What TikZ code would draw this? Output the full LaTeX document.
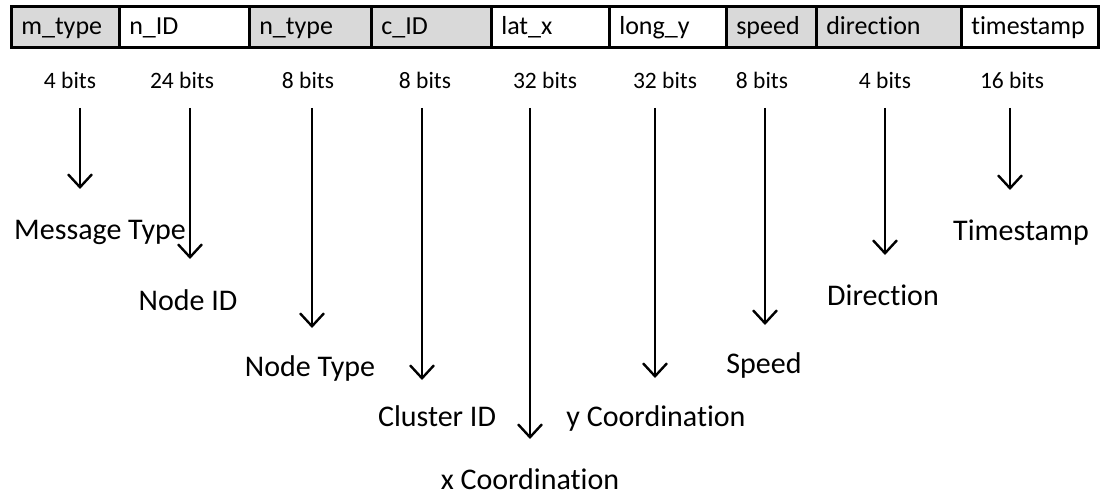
\documentclass[tikz,border=0pt]{standalone}
\usepackage{fontspec}
\setmainfont[Ligatures={NoCommon}]{Carlito}
\usetikzlibrary{arrows.meta}
\definecolor{cellgray}{HTML}{D9D9D9}
\tikzset{
  cell/.style={draw=black, line width=2.6pt, minimum height=41pt, inner xsep=10pt,
    inner ysep=0pt, text height=20pt, text depth=4pt, align=left, anchor=west,
    font=\fontsize{26}{30}\selectfont},
  bitlbl/.style={inner sep=0pt, font=\fontsize{23.5}{27}\selectfont},
  fieldlbl/.style={inner sep=0pt, font=\fontsize{30}{34}\selectfont},
  arr/.style={line width=2.4pt, -{Straight Barb[length=13pt,width=24pt]}}
}
\begin{document}
\begin{tikzpicture}[x=1pt,y=-1pt]
\useasboundingbox (0,0) rectangle (1105,497);

% header fields
\node[cell, fill=cellgray, text width=88pt]  (f1) at (10,27)  {m\_type};
\node[cell, fill=white,    text width=110pt] (f2) at (118,27) {n\_ID};
\node[cell, fill=cellgray, text width=102pt] (f3) at (248,27) {n\_type};
\node[cell, fill=cellgray, text width=100pt] (f4) at (370,27) {c\_ID};
\node[cell, fill=white,    text width=98pt]  (f5) at (490,27) {lat\_x};
\node[cell, fill=white,    text width=97pt]  (f6) at (608,27) {long\_y};
\node[cell, fill=cellgray, text width=70pt]  (f7) at (725,27) {speed};
\node[cell, fill=cellgray, text width=125pt] (f8) at (815,27) {direction};
\node[cell, fill=white,    text width=117pt] (f9) at (960,27) {timestamp};

% field sizes
\node[bitlbl] (b1) at (70,80)   {4 bits};
\node[bitlbl] (b2) at (182,80)  {24 bits};
\node[bitlbl] (b3) at (308,80)  {8 bits};
\node[bitlbl] (b4) at (425,80)  {8 bits};
\node[bitlbl] (b5) at (545,80)  {32 bits};
\node[bitlbl] (b6) at (665,80)  {32 bits};
\node[bitlbl] (b7) at (762,80)  {8 bits};
\node[bitlbl] (b8) at (885,80)  {4 bits};
\node[bitlbl] (b9) at (1012,80) {16 bits};

% field descriptions
\node[fieldlbl] (l1) at (100,232)  {Message Type};
\node[fieldlbl] (l2) at (188,300)  {Node ID};
\node[fieldlbl] (l3) at (310,368)  {Node Type};
\node[fieldlbl] (l4) at (437,416)  {Cluster ID};
\node[fieldlbl] (l5) at (530,479)  {x Coordination};
\node[fieldlbl] (l6) at (656,418)  {y Coordination};
\node[fieldlbl] (l7) at (764,365)  {Speed};
\node[fieldlbl] (l8) at (883,295)  {Direction};
\node[fieldlbl] (l9) at (1021,233) {Timestamp};

% arrow ends
\coordinate (s1) at (80,108);   \coordinate (e1) at (80,189);
\coordinate (s2) at (190,108);  \coordinate (e2) at (190,259);
\coordinate (s3) at (312,108);  \coordinate (e3) at (312,328);
\coordinate (s4) at (422,108);  \coordinate (e4) at (422,380);
\coordinate (s5) at (530,108);  \coordinate (e5) at (530,439);
\coordinate (s6) at (655,108);  \coordinate (e6) at (655,378);
\coordinate (s7) at (765,108);  \coordinate (e7) at (765,325);
\coordinate (s8) at (885,108);  \coordinate (e8) at (885,255);
\coordinate (s9) at (1010,108); \coordinate (e9) at (1010,190);

\foreach \i in {1,...,9} \draw[arr] (s\i) -- (e\i);
\end{tikzpicture}
\end{document}
